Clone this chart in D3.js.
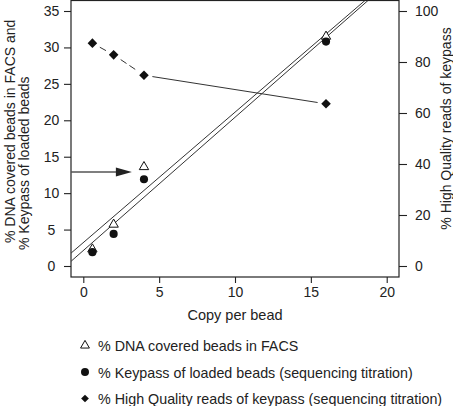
<!DOCTYPE html>
<html><head><meta charset="utf-8">
<script src="https://cdn.jsdelivr.net/npm/d3@7"></script>
<style>
body{margin:0;background:#fff;}
svg{display:block;font-family:"Liberation Sans",Arial,sans-serif;}
</style></head>
<body><svg id="c" width="453" height="406"></svg>
<script>
// ---- data ----
const copies = [0.6, 2, 4, 16];
const dnaCovered = [2.3, 5.7, 13.6, 31.5];      // left axis, triangles
const keypass = [1.9, 4.4, 11.9, 30.8];          // left axis, circles
const highQuality = [87.4, 82.8, 74.8, 63.6];    // right axis, diamonds
const fitUpper = [[-0.8, 1.78], [18.6, 36.5]];   // fitted line endpoints (x, left-axis y)
const fitLower = [[-0.8, 0.66], [18.8, 36.5]];
const arrowY = 12.9, arrowTipX = 3.2;
const xTicks = [0, 5, 10, 15, 20];
const yLeftTicks = [0, 5, 10, 15, 20, 25, 30, 35];
const yRightTicks = [0, 20, 40, 60, 80, 100];
const legendLabels = ["% DNA covered beads in FACS",
  "% Keypass of loaded beads (sequencing titration)",
  "% High Quality reads of keypass (sequencing titration)"];

// ---- layout ----
const svg = d3.select("#c");
const box = {l: 71, r: 399, t: 0.5, b: 277};
const x = d3.scaleLinear().domain([0, 20]).range([83.3, 386.7]);
const yL = d3.scaleLinear().domain([0, 35]).range([266, 11]);
const yR = d3.scaleLinear().domain([0, 100]).range([266, 11]);
const ink = "#222";

svg.append("clipPath").attr("id", "clip").append("rect")
  .attr("x", box.l).attr("y", box.t).attr("width", box.r - box.l).attr("height", box.b - box.t);

// axes
const gx = svg.append("g").attr("transform", `translate(0,${box.b})`)
  .call(d3.axisBottom(x).tickValues(xTicks).tickSize(6).tickPadding(4.5).tickFormat(d3.format("d")));
const gl = svg.append("g").attr("transform", `translate(${box.l},0)`)
  .call(d3.axisLeft(yL).tickValues(yLeftTicks).tickSize(7).tickFormat(d3.format("d")));
gl.selectAll("text").attr("text-anchor", "middle").attr("x", -19.5);
const gr = svg.append("g").attr("transform", `translate(${box.r},0)`)
  .call(d3.axisRight(yR).tickValues(yRightTicks).tickSize(8).tickPadding(8).tickFormat(d3.format("d")));
[gx, gl, gr].forEach(g => {
  g.select(".domain").remove();
  g.selectAll("line").attr("stroke", ink).attr("stroke-width", 1.1);
  g.selectAll("text").attr("fill", ink).style("font-size", "14px").style("font-family", "'Liberation Sans',Arial,sans-serif");
});

svg.append("rect").attr("x", box.l).attr("y", box.t).attr("width", box.r - box.l).attr("height", box.b - box.t)
  .attr("fill", "none").attr("stroke", ink).attr("stroke-width", 1.2);

// axis titles
svg.append("text").attr("x", 235).attr("y", 320).attr("text-anchor", "middle")
  .style("font-size", "14.5px").attr("fill", ink).text("Copy per bead");
svg.append("text").attr("transform", "translate(15,243) rotate(-90)")
  .style("font-size", "14px").attr("fill", ink).text("% DNA covered beads in FACS and");
svg.append("text").attr("transform", "translate(29,250) rotate(-90)")
  .style("font-size", "14px").attr("fill", ink).text("% Keypass of loaded beads");
svg.append("text").attr("transform", "translate(450.5,128.5) rotate(-90)").attr("text-anchor", "middle")
  .style("font-size", "14px").attr("fill", ink).text("% High Quality reads of keypass");

const plot = svg.append("g").attr("clip-path", "url(#clip)");

// fitted lines
const ln = d3.line().x(d => x(d[0])).y(d => yL(d[1]));
[fitUpper, fitLower].forEach(f => plot.append("path").attr("d", ln(f))
  .attr("fill", "none").attr("stroke", "#333").attr("stroke-width", 1));

// diamond series connecting segments with gaps near markers
const hqPts = copies.map((c, i) => [x(c), yR(highQuality[i])]);
for (let i = 0; i < hqPts.length - 1; i++) {
  const [x0, y0] = hqPts[i], [x1, y1] = hqPts[i + 1];
  const len = Math.hypot(x1 - x0, y1 - y0), gap = 8.5;
  const ux = (x1 - x0) / len, uy = (y1 - y0) / len;
  plot.append("line")
    .attr("x1", x0 + ux * gap).attr("y1", y0 + uy * gap)
    .attr("x2", x1 - ux * gap).attr("y2", y1 - uy * gap)
    .attr("stroke", "#333").attr("stroke-width", 1)
    .attr("stroke-dasharray", i < 2 ? "7,3.5" : null);
}

// arrow
const ay = yL(arrowY), tip = x(arrowTipX);
svg.append("line").attr("x1", box.l).attr("y1", ay).attr("x2", tip - 14).attr("y2", ay)
  .attr("stroke", "#555").attr("stroke-width", 1.6);
svg.append("path").attr("d", `M${tip},${ay} L${tip - 16},${ay - 4.5} L${tip - 16},${ay + 4.5} Z`)
  .attr("fill", "#222");

// markers
const tri = d3.symbol().type(d3.symbolTriangle).size(38);
const cir = d3.symbol().type(d3.symbolCircle).size(52);
const dia = d3.symbol().type(d3.symbolSquare).size(46);
plot.selectAll(".tri").data(copies).join("path")
  .attr("d", tri).attr("transform", (c, i) => `translate(${x(c)},${yL(dnaCovered[i])})`)
  .attr("fill", "#fff").attr("stroke", "#111").attr("stroke-width", 1);
plot.selectAll(".cir").data(copies).join("path")
  .attr("d", cir).attr("transform", (c, i) => `translate(${x(c)},${yL(keypass[i])})`)
  .attr("fill", "#111");
plot.selectAll(".dia").data(copies).join("path")
  .attr("d", dia).attr("transform", (c, i) => `translate(${x(c)},${yR(highQuality[i])}) rotate(45)`)
  .attr("fill", "#111");

// legend
const legY = [351, 377.5, 404];
const legSym = [
  d3.symbol().type(d3.symbolTriangle).size(34),
  d3.symbol().type(d3.symbolCircle).size(50),
  d3.symbol().type(d3.symbolSquare).size(30)];
legendLabels.forEach((t, i) => {
  const p = svg.append("path").attr("d", legSym[i]())
    .attr("transform", `translate(85,${legY[i] - 5.5})${i === 2 ? " rotate(45)" : ""}`);
  if (i === 0) p.attr("fill", "#fff").attr("stroke", "#111").attr("stroke-width", 1);
  else p.attr("fill", "#111");
  svg.append("text").attr("x", 98).attr("y", legY[i]).style("font-size", "14.3px").attr("fill", ink).text(t);
});
</script></body></html>
